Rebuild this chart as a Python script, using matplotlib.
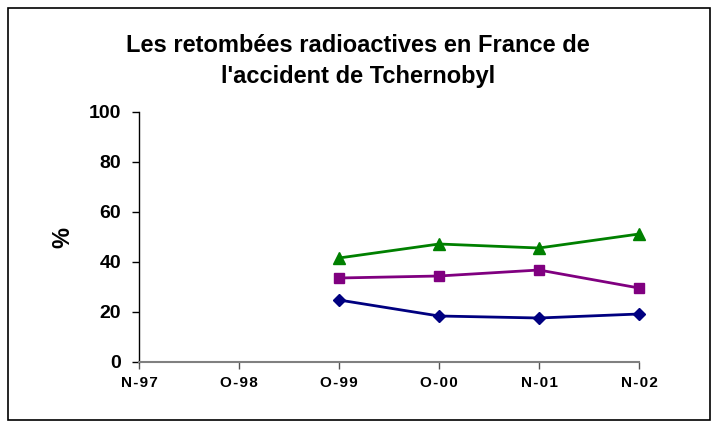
import matplotlib.pyplot as plt
from matplotlib.patches import Rectangle

plt.rcParams['font.family'] = ['Liberation Sans', 'DejaVu Sans']

categories = ['N-97', 'O-98', 'O-99', 'O-00', 'N-01', 'N-02']
x_series = [2, 3, 4, 5]
blue_vals = [24.8, 18.4, 17.6, 19.2]
purple_vals = [33.6, 34.4, 36.8, 29.6]
green_vals = [41.6, 47.2, 45.6, 51.2]

fig = plt.figure(figsize=(7.18, 4.28), dpi=100)
fig.patches.append(Rectangle((8 / 718, 8 / 428), 702 / 718, 412 / 428,
                             transform=fig.transFigure, fill=False,
                             edgecolor='black', linewidth=1.2))

ax = fig.add_axes([139 / 718, (428 - 362) / 428, 500 / 718, 250 / 428])

ax.plot(x_series, blue_vals, color='#000080', marker='D', markersize=6,
        linewidth=2, clip_on=False, zorder=3)
ax.plot(x_series, purple_vals, color='#800080', marker='s', markersize=7.5,
        linewidth=2, clip_on=False, zorder=3)
ax.plot(x_series, green_vals, color='#008000', marker='^', markersize=8,
        linewidth=2, clip_on=False, zorder=3)

ax.set_xlim(0, 5)
ax.set_ylim(0, 100)
ax.set_yticks([0, 20, 40, 60, 80, 100])
ax.set_xticks(range(len(categories)))
# Excel-like letter spacing on the category labels
ax.set_xticklabels(['\u200a'.join(c) for c in categories],
                   fontweight='bold', fontsize=11)
ax.tick_params(axis='y', labelsize=14, length=5, width=1, pad=8)
ax.tick_params(axis='x', length=5, width=1, pad=5, color='#555555')
for lbl in ax.get_yticklabels():
    lbl.set_fontweight('bold')

ax.spines['top'].set_visible(False)
ax.spines['right'].set_visible(False)
ax.spines['bottom'].set_color('#808080')
ax.spines['bottom'].set_linewidth(1.5)
ax.spines['left'].set_linewidth(1)
ax.set_ylabel('%', fontsize=17, fontweight='bold', labelpad=10)

fig.text(358 / 718, 1 - 61 / 428,
         "Les retombées radioactives en France de\nl'accident de Tchernobyl",
         ha='center', va='center', fontsize=17, fontweight='bold',
         linespacing=1.5)

fig.savefig('out.png', dpi=100)
